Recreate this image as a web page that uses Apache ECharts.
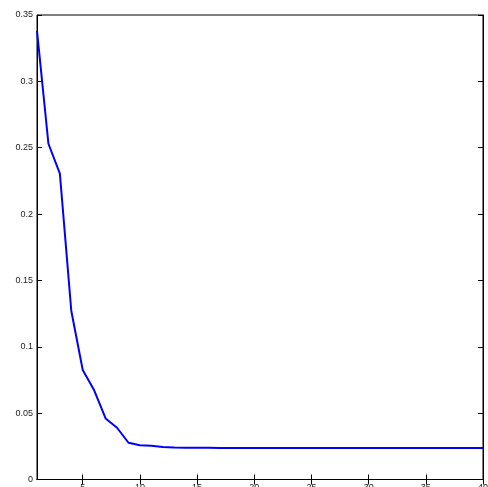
<!DOCTYPE html>
<html>
<head>
<meta charset="utf-8">
<script src="https://cdn.jsdelivr.net/npm/echarts@6/dist/echarts.min.js"></script>
<style>
  html, body { margin: 0; padding: 0; background: #fff; }
  #chart-container { width: 488px; height: 487px; }
</style>
</head>
<body>
<div id="chart-container"></div>
<script>
var iterations = [];
for (var i = 1; i <= 40; i++) iterations.push(i);

var xTicks = [5, 10, 15, 20, 25, 30, 35, 40];

var errorValues = [
  0.338, 0.253, 0.2305, 0.127, 0.0825, 0.0672, 0.046, 0.039, 0.0277, 0.0258,
  0.0254, 0.0245, 0.0241, 0.0239, 0.0239, 0.0239, 0.0238, 0.0238, 0.0238, 0.0238,
  0.0238, 0.0238, 0.0238, 0.0238, 0.0238, 0.0238, 0.0238, 0.0238, 0.0238, 0.0237,
  0.0237, 0.0237, 0.0237, 0.0237, 0.0237, 0.0237, 0.0237, 0.0237, 0.0237, 0.0237
];

var dom = document.getElementById("chart-container");
var myChart = echarts.init(dom, null, { renderer: "canvas" });

var labelFont = {
  fontFamily: "Liberation Sans",
  fontSize: 9,
  color: "#222",
};

var option = {
  animation: false,
  grid: {
    left: 37,
    right: 5,
    top: 15,
    bottom: 7.5,
    outerBoundsMode: "none",
    containLabel: false,
    show: true,
    borderColor: "#000",
    borderWidth: 1,
  },
  xAxis: [
    {
      type: "value",
      min: 1,
      max: 40,
      axisLine: { lineStyle: { color: "#000" } },
      axisTick: { inside: true, length: 5, customValues: xTicks, lineStyle: { color: "#000" } },
      axisLabel: Object.assign({ margin: 4, customValues: xTicks }, labelFont),
      splitLine: { show: false },
    },
    {
      type: "value",
      position: "top",
      min: 1,
      max: 40,
      axisLine: { lineStyle: { color: "#000" } },
      axisTick: { inside: true, length: 5, customValues: xTicks, lineStyle: { color: "#000" } },
      axisLabel: { show: false },
      splitLine: { show: false },
    },
  ],
  yAxis: [
    {
      type: "value",
      min: 0,
      max: 0.35,
      interval: 0.05,
      axisLine: { show: true, lineStyle: { color: "#000" } },
      axisTick: { show: true, inside: true, length: 5, lineStyle: { color: "#000" } },
      axisLabel: Object.assign({ margin: 4 }, labelFont),
      splitLine: { show: false },
    },
    {
      type: "value",
      position: "right",
      min: 0,
      max: 0.35,
      interval: 0.05,
      axisLine: { show: true, lineStyle: { color: "#000" } },
      axisTick: { show: true, inside: true, length: 5, lineStyle: { color: "#000" } },
      axisLabel: { show: false },
      splitLine: { show: false },
    },
  ],
  series: [
    {
      type: "line",
      showSymbol: false,
      data: iterations.map(function (x, i) {
        return [x, errorValues[i]];
      }),
      lineStyle: { color: "#0000ff", width: 2 },
      itemStyle: { color: "#0000ff" },
    },
  ],
};

myChart.setOption(option);
window.addEventListener("resize", myChart.resize);
</script>
</body>
</html>
